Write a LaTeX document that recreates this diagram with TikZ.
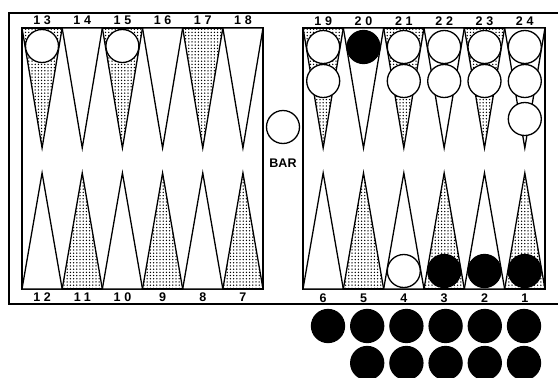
\documentclass[tikz,border=0pt]{standalone}
\usepackage{fontspec}
\setsansfont{Liberation Sans}
\newfontfamily\pointfont[LetterSpace=30]{Liberation Sans}
\usetikzlibrary{patterns.meta}

\tikzset{
  spike/.style={draw, line width=1.3pt, line join=miter, fill=white},
  dotspike/.style={spike, pattern={Dots[distance=3.2pt, radius=0.75pt]}},
  checker/.style={circle, draw, line width=1.3pt, minimum size=33pt, inner sep=0pt},
  white checker/.style={checker, fill=white},
  black checker/.style={checker, fill=black},
  ptlabel/.style={font=\pointfont\bfseries\fontsize{12.5}{12.5}\selectfont, inner sep=0pt},
}

\begin{document}
\begin{tikzpicture}[x=1pt, y=-1pt]
  \useasboundingbox (0,0) rectangle (558,378);
  % Frame and the two boards
  \draw[line width=1.6pt] (558,13) -- (9,13) -- (9,304) -- (558,304);
  \draw[line width=1.6pt] (22,28) rectangle (263,289);
  \draw[line width=1.6pt] (303,28) rectangle (545,289);
  % Points with their numbers
  \foreach \i/\ts/\bs in {0/dotspike/spike, 1/spike/dotspike, 2/dotspike/spike,
                          3/spike/dotspike, 4/dotspike/spike, 5/spike/dotspike} {
    \pgfmathsetmacro\xl{22+40.17*\i}
    \pgfmathsetmacro\xr{303+40.33*\i}
    \pgfmathtruncatemacro\ntl{13+\i}
    \pgfmathtruncatemacro\ntr{19+\i}
    \pgfmathtruncatemacro\nbl{12-\i}
    \pgfmathtruncatemacro\nbr{6-\i}
    \draw[\ts] (\xl,28) -- (\xl+20.08,148) -- (\xl+40.17,28) -- cycle;
    \draw[\ts] (\xr,28) -- (\xr+20.17,148) -- (\xr+40.33,28) -- cycle;
    \draw[\bs] (\xl,289) -- (\xl+20.08,173) -- (\xl+40.17,289) -- cycle;
    \draw[\bs] (\xr,289) -- (\xr+20.17,173) -- (\xr+40.33,289) -- cycle;
    \node[ptlabel] (p\ntl) at (\xl+20.08,20.5) {\ntl};
    \node[ptlabel] (p\ntr) at (\xr+20.17,21.5) {\ntr};
    \node[ptlabel] (p\nbl) at (\xl+20.08,297) {\nbl};
    \node[ptlabel] (p\nbr) at (\xr+20.17,298) {\nbr};
  }
  % Checkers on the upper points
  \node[white checker] (w13) at (42,46) {};
  \node[white checker] (w15) at (122.4,46) {};
  \foreach \x/\n in {323.2/19, 403.8/21, 444.2/22, 484.5/23, 524.8/24} {
    \node[white checker] (w\n a) at (\x,47) {};
    \node[white checker] (w\n b) at (\x,81) {};
  }
  \node[white checker] (w24c) at (524.8,119) {};
  \node[black checker] (b20) at (363.5,47) {};
  % Bar
  \node[white checker] (wbar) at (283,127) {};
  \node[font=\sffamily\bfseries\fontsize{12.5}{12.5}\selectfont, inner sep=0pt] (bar) at (283,163) {BAR};
  % Checkers on the lower points
  \node[white checker] (w4) at (403.8,271) {};
  \foreach \x/\n in {444.2/3, 484.5/2, 524.8/1}
    \node[black checker] (b\n) at (\x,271) {};
  % Black checkers off the board
  \foreach \i in {0,...,5}
    \node[black checker] (off\i a) at (328+39.2*\i,326) {};
  \foreach \i in {1,...,5}
    \node[black checker] (off\i b) at (328+39.2*\i,363) {};
\end{tikzpicture}
\end{document}
